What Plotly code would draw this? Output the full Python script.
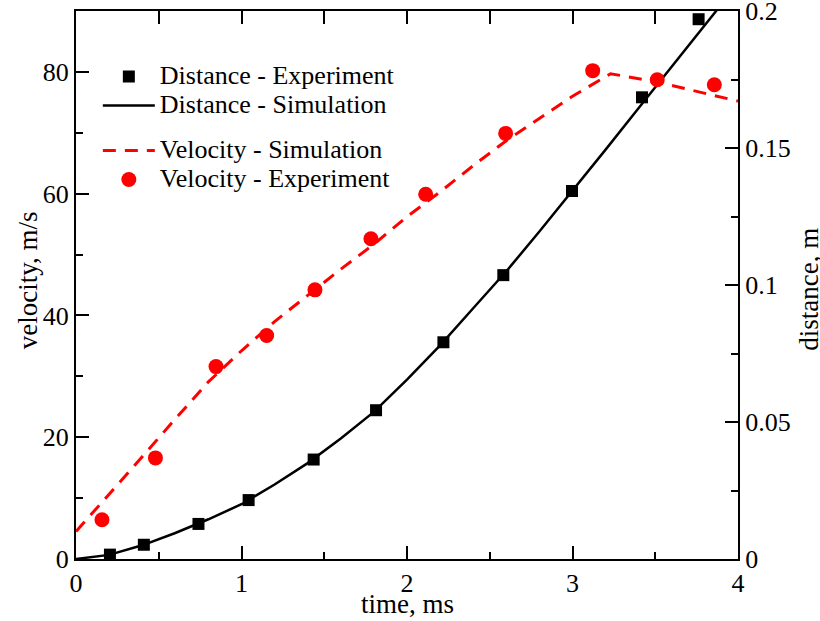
import plotly.graph_objects as go

# ---- data ----
t_dist_exp = [0.205, 0.41, 0.74, 1.043, 1.436, 1.813, 2.22, 2.582, 2.997, 3.42, 3.762]
dist_exp = [0.0016, 0.0052, 0.0128, 0.0215, 0.0363, 0.0543, 0.0791, 0.1036, 0.1343, 0.1685, 0.197]

t_dist_sim = [0, 0.2, 0.4, 0.6, 0.8, 1.0, 1.2, 1.4, 1.6, 1.8, 2.0, 2.2, 2.4, 2.6, 2.8, 3.0, 3.2, 3.4, 3.6, 3.8, 4.0]
dist_sim = [0, 0.0015, 0.0050, 0.0095, 0.0145, 0.0200, 0.0272, 0.0350, 0.0440, 0.0537, 0.0655,
            0.0780, 0.0915, 0.1050, 0.1195, 0.1343, 0.1494, 0.1646, 0.1798, 0.1950, 0.2100]

t_vel_sim = [0, 0.2, 0.4, 0.6, 0.8, 1.0, 1.2, 1.4, 1.6, 1.8, 2.0, 2.2, 2.4, 2.6, 2.8, 3.0, 3.23, 3.5, 3.75, 4.0]
vel_sim = [4.5, 10.6, 16.8, 23.0, 29.1, 34.2, 39.0, 43.3, 47.6, 51.7, 56.2, 60.3, 64.6, 68.7, 72.4,
           76.0, 79.7, 78.4, 76.8, 75.2]

t_vel_exp = [0.157, 0.48, 0.846, 1.152, 1.444, 1.782, 2.113, 2.596, 3.122, 3.512, 3.857]
vel_exp = [6.45, 16.6, 31.6, 36.7, 44.2, 52.6, 59.9, 69.9, 80.2, 78.7, 77.9]

x_ticks = [0, 1, 2, 3, 4]
vel_ticks = [0, 20, 40, 60, 80]
dist_ticks = [0, 0.05, 0.1, 0.15, 0.2]
dist_tick_labels = ["0", "0.05", "0.1", "0.15", "0.2"]

x_title = "time, ms"
vel_title = "velocity, m/s"
dist_title = "distance, m"

FONT = "Liberation Serif"


def lg(name):
    return f'<span style="font-size:26px">{name}</span>'


fig = go.Figure()
fig.add_trace(go.Scatter(x=t_dist_exp, y=dist_exp, mode="markers", name=lg("Distance - Experiment"),
                         legendgroup="d", marker=dict(symbol="square", size=12, color="black"),
                         xaxis="x", yaxis="y"))
fig.add_trace(go.Scatter(x=t_dist_sim, y=dist_sim, mode="lines", name=lg("Distance - Simulation"),
                         legendgroup="d", line=dict(color="black", width=2.5),
                         xaxis="x", yaxis="y"))
fig.add_trace(go.Scatter(x=t_vel_sim, y=vel_sim, mode="lines", name=lg("Velocity - Simulation"),
                         legendgroup="v", line=dict(color="#ff0000", width=3, dash="13px,9px"),
                         xaxis="x2", yaxis="y2"))
fig.add_trace(go.Scatter(x=t_vel_exp, y=vel_exp, mode="markers", name=lg("Velocity - Experiment"),
                         legendgroup="v", marker=dict(symbol="circle", size=15, color="#ff0000"),
                         xaxis="x2", yaxis="y2"))

tickfont = dict(family=FONT, size=26, color="black")
base = dict(showline=True, linecolor="black", linewidth=2,
            ticks="inside", ticklen=13, tickwidth=2, tickcolor="black",
            automargin=False, ticklabeloverflow="allow", tickfont=tickfont)
minor = dict(ticks="inside", ticklen=7, tickwidth=2, tickcolor="black")

title_font = dict(family=FONT, size=27, color="black")

fig.update_layout(
    width=820, height=621,
    margin=dict(l=76, r=82, t=11, b=62),
    plot_bgcolor="rgba(0,0,0,0)",
    xaxis=dict(range=[0, 4], tickvals=x_ticks, ticktext=[str(v) for v in x_ticks],
               minor=dict(dtick=0.5, **minor), anchor="y", **base),
    xaxis2=dict(range=[0, 4], overlaying="x", side="top", anchor="y2", dtick=0.5, tick0=0,
                showticklabels=False, **base),
    yaxis=dict(range=[0, 0.2], side="right", tickvals=dist_ticks, ticktext=dist_tick_labels,
               minor=dict(dtick=0.025, **minor), anchor="x", **base),
    yaxis2=dict(range=[0, 90], side="left", overlaying="y", anchor="x2",
                tickvals=vel_ticks, ticktext=[str(v) for v in vel_ticks],
                minor=dict(dtick=10, **minor), **base),
    showlegend=True,
    legend=dict(x=0.033, y=0.916, xanchor="left", yanchor="top", bgcolor="rgba(0,0,0,0)",
                font=dict(family=FONT, size=20, color="black"), traceorder="grouped",
                tracegroupgap=16, itemwidth=52),
    annotations=[
        dict(text=x_title, xref="paper", yref="paper", x=0.5, y=-0.082, xanchor="center",
             yanchor="middle", showarrow=False, font=title_font),
        dict(text=vel_title, xref="paper", yref="paper", x=-0.073, y=0.508, xanchor="center",
             yanchor="middle", textangle=-90, showarrow=False, font=title_font),
        dict(text=dist_title, xref="paper", yref="paper", x=1.107, y=0.493, xanchor="center",
             yanchor="middle", textangle=-90, showarrow=False, font=title_font),
    ],
)

fig.write_html("out.html")
